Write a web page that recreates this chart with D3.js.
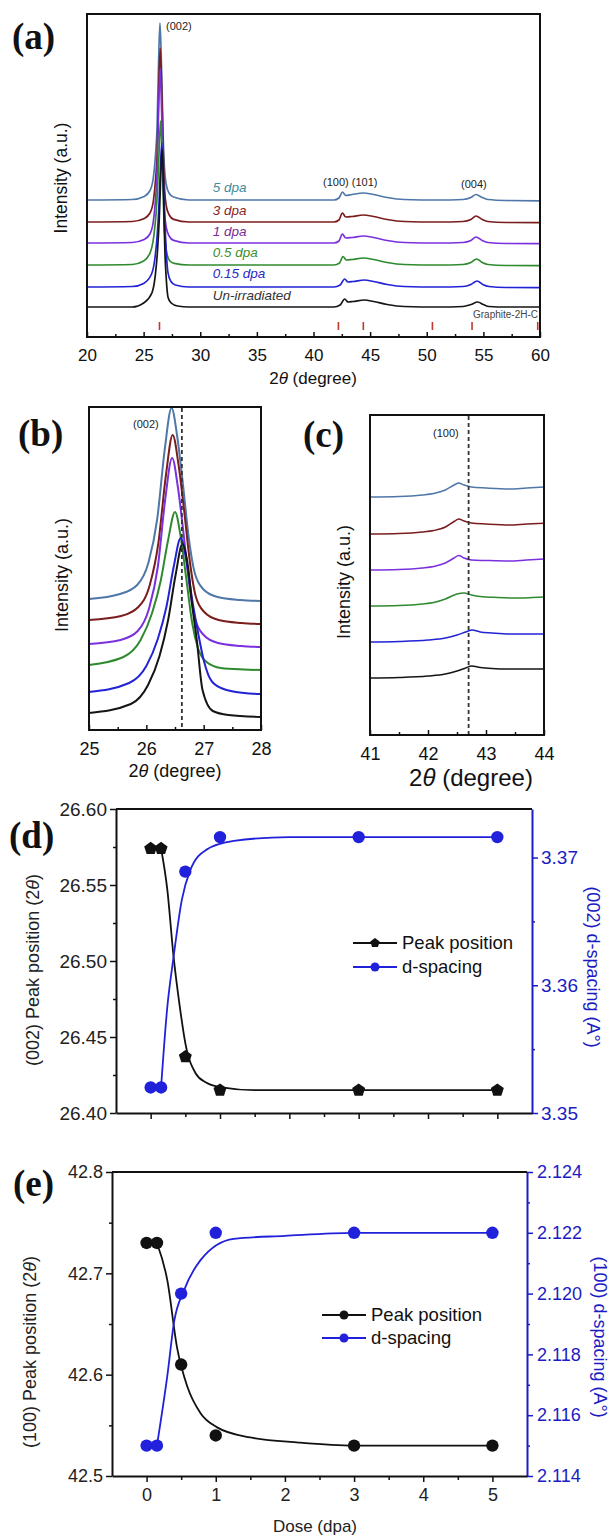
<!DOCTYPE html>
<meta charset="utf-8">
<style>
body { margin: 0; background: #fff; }
svg { display: block; font-family: "Liberation Sans", Arial, sans-serif; }
.frame { fill: none; stroke: #111; stroke-width: 2px; }
.scan { fill: none; stroke-width: 1.6px; stroke-linejoin: round; }
.fit { fill: none; stroke-width: 1.8px; }
.tick line { stroke: #111; stroke-width: 1.5px; }
.panel-label { font-family: "Liberation Serif", "Times New Roman", serif; font-weight: bold; font-size: 37px; fill: #111; }
</style>
<body>
<div id="chart"></div>
<script src="https://d3js.org/d3.v7.min.js"></script>
<script>
// ---------- data ----------
var doseLabels = ["Un-irradiated", "0.15 dpa", "0.5 dpa", "1 dpa", "3 dpa", "5 dpa"];
var lineColors = ["#151515", "#2323d6", "#2f8a2f", "#7b30dd", "#7a1d1d", "#4f77a8"];
var labelColors = ["#333333", "#2a2ac4", "#3c8f2c", "#7e2b97", "#8a2626", "#3f8c9b"];

// (a) full scans: [2theta, intensity (a.u., stacked)]
var scanA_un = [[20,30],[24,30],[25,34],[25.73,44],[26.03,61.6],[26.23,87],[26.38,118],[26.51,160],[26.63,188],[26.73,164],[26.8,120],[26.88,85],[26.98,61.6],[27.16,39.5],[27.43,34],[28,31],[29,30],[33,30],[38,30],[41.8,30],[42.35,32],[42.75,38],[43.05,35],[43.5,35.5],[44.5,37],[45.3,35.5],[46.5,32.5],[48,30.5],[51,30],[53.2,30.5],[53.9,32.5],[54.5,35],[55,32.5],[55.5,30.5],[57,30],[60,30]];
var scanA_015 = [[20,50],[24,50.5],[25,53.6],[25.7,63],[26,79],[26.2,102],[26.35,131],[26.48,168],[26.6,194],[26.7,172],[26.8,136],[26.9,108],[27,84.6],[27.15,64.4],[27.4,55.8],[27.8,52],[29,50],[33,50],[38,50],[41.8,50],[42.35,52],[42.75,58],[43.05,55],[43.5,55.5],[44.5,57],[45.3,55.5],[46.5,52.5],[48,50.5],[51,50],[53.2,50.5],[53.9,52.5],[54.45,56],[54.95,52.5],[55.5,50.5],[57,49.5],[60,49.3]];
var scanA_05 = [[20,72],[24,72.5],[25,76],[25.6,85],[25.9,101],[26.1,124],[26.25,153],[26.38,190],[26.5,216],[26.6,194],[26.7,156],[26.8,115],[26.9,96.5],[27.05,83.5],[27.3,76.3],[27.7,73.7],[29,72],[33,72],[38,72],[41.8,72],[42.3,74],[42.6,80.5],[42.9,77],[43.4,77.5],[44.4,79],[45.3,77.5],[46.5,74.5],[48,72.5],[51,72],[53.2,72.5],[53.9,74.5],[54.4,78],[54.9,74.5],[55.4,72.5],[57,71.5],[60,71.3]];
var scanA_1 = [[20,94],[24,94.5],[25.05,97.5],[25.55,103],[25.85,115],[26.05,137.5],[26.2,167],[26.33,230],[26.45,268],[26.55,242],[26.65,198],[26.75,151],[26.85,125],[27,109.5],[27.25,101],[27.65,96.6],[29,94],[33,94],[38,94],[41.8,94],[42.25,96],[42.55,103],[42.85,99],[43.4,99.5],[44.4,101],[45.3,99.5],[46.5,96.5],[48,94.5],[51,94],[53.2,94.5],[53.9,96.5],[54.35,100],[54.9,96.5],[55.4,94.5],[57,93.5],[60,93.3]];
var scanA_3 = [[20,115],[24,115.5],[25.06,118.5],[25.56,124],[25.86,136],[26.06,158.5],[26.21,188],[26.34,251],[26.46,289],[26.56,263],[26.66,219],[26.76,172],[26.86,146],[27.01,130.5],[27.26,122],[27.66,117.6],[29,115],[33,115],[38,115],[41.8,115],[42.25,117],[42.55,124],[42.85,120],[43.4,120.5],[44.4,122],[45.3,120.5],[46.5,117.5],[48,115.5],[51,115],[53.2,115.5],[53.9,117.5],[54.35,121],[54.9,117.5],[55.4,115.5],[57,114.5],[60,114.3]];
var scanA_5 = [[20,137],[24,137.5],[25.04,140.5],[25.54,146],[25.84,158],[26.04,181],[26.19,211],[26.32,275],[26.44,314],[26.54,287],[26.64,243],[26.74,195],[26.84,169],[26.99,153],[27.24,144],[27.64,140],[29,137],[33,137],[38,137],[41.8,137],[42.25,139],[42.55,145],[42.85,141.5],[43.4,142.5],[44.4,144],[45.3,142.5],[46.5,139.5],[48,137.5],[51,137],[53.2,137.5],[53.9,139.5],[54.35,142.5],[54.9,139.5],[55.4,137.5],[57,136.5],[60,136.2]];
var labelBaseA = [300, 278, 257, 236, 215, 192]; // label positions in (a), px
var graphite2H = [26.4, 42.2, 44.4, 50.5, 54.0, 59.8];

// (b) (002) zoom
var scanB_un = [[25,17],[25.73,26],[26.03,45],[26.23,74],[26.38,110],[26.51,155],[26.63,186],[26.73,162],[26.8,125],[26.88,90],[26.98,40],[27.16,19],[27.43,15],[28,13]];
var scanB_015 = [[25,38],[25.7,47],[26,64],[26.2,91],[26.35,123],[26.48,164],[26.6,192],[26.7,169],[26.8,130],[26.9,98],[27,70],[27.15,48],[27.4,40],[27.8,36.5],[28,36]];
var scanB_05 = [[25,65],[25.6,73],[25.9,90],[26.1,117],[26.25,149],[26.38,190],[26.5,218],[26.6,193],[26.7,150],[26.8,107],[26.9,82],[27.05,68],[27.3,62],[27.7,60.5],[28,60]];
var scanB_1 = [[25,86],[25.55,90],[25.85,99],[26.05,122],[26.2,163],[26.33,231],[26.45,272],[26.55,243],[26.65,196],[26.75,145],[26.85,111],[27,95],[27.25,87],[27.65,84],[28,83]];
var scanB_3 = [[25,110],[25.56,114],[25.86,123],[26.06,145],[26.21,187],[26.34,254],[26.46,295],[26.56,266],[26.66,219],[26.76,168],[26.86,134],[27.01,118],[27.26,110],[27.66,107],[28,106]];
var scanB_5 = [[25,131],[25.54,136],[25.84,145],[26.04,168],[26.19,211],[26.32,280],[26.44,322],[26.54,293],[26.64,245],[26.74,192],[26.84,158],[26.99,141],[27.24,133],[27.64,130],[28,129]];

// (c) (100) zoom
var scanC_un = [[41,57],[41.5,57.5],[42,59],[42.3,61],[42.5,64],[42.65,67],[42.75,69],[42.9,67.5],[43.1,66.5],[43.4,66],[43.7,66],[44,66]];
var scanC_015 = [[41,93],[41.5,93.5],[42,95],[42.3,97],[42.5,100],[42.65,103],[42.76,105],[42.9,103],[43.1,102],[43.4,101],[43.7,101],[44,101]];
var scanC_05 = [[41,129],[41.5,129.5],[41.9,131],[42.1,132.5],[42.3,136],[42.5,141],[42.62,142],[42.75,140],[42.9,138.5],[43.2,137.5],[43.5,137],[43.8,137.5],[44,138]];
var scanC_1 = [[41,165],[41.5,165.5],[41.9,167],[42.1,168.5],[42.3,172],[42.45,177],[42.53,179.5],[42.62,177],[42.75,175],[43,174.5],[43.4,174],[43.7,175],[44,176]];
var scanC_3 = [[41,201],[41.5,201.5],[41.9,203],[42.1,204.5],[42.3,208],[42.45,213.5],[42.53,216],[42.62,214],[42.75,212],[43,211],[43.4,210],[43.7,211],[44,211.7]];
var scanC_5 = [[41,238],[41.5,238.5],[41.9,240],[42.1,241.5],[42.3,245],[42.45,250],[42.53,252],[42.62,250],[42.75,248],[43,247],[43.4,246],[43.7,247],[44,248]];

// (d) and (e) peak position / d-spacing vs dose
var dose = [0, 0.15, 0.5, 1, 3, 5];
var peak002 = [26.574, 26.574, 26.437, 26.415, 26.415, 26.415];
var dsp002 = [3.352, 3.352, 3.3689, 3.3716, 3.3716, 3.3716];
var peak100 = [42.73, 42.73, 42.61, 42.54, 42.53, 42.53];
var dsp100 = [2.115, 2.115, 2.120, 2.122, 2.122, 2.122];
var fitPeak002 = [[0.15,26.574],[0.24,26.547],[0.33,26.503],[0.42,26.470],[0.5,26.446],[0.65,26.426],[0.8,26.420],[1.0,26.417],[1.5,26.415],[2,26.415],[3,26.415],[5,26.415]];
var fitDsp002 = [[0.15,3.352],[0.24,3.3583],[0.33,3.3622],[0.45,3.3667],[0.57,3.369],[0.8,3.3706],[1.2,3.3713],[2,3.3716],[3,3.3716],[5,3.3716]];
var fitPeak100 = [[0.15,42.73],[0.3,42.693],[0.44,42.627],[0.59,42.588],[0.78,42.562],[1.02,42.548],[1.5,42.538],[2.2,42.533],[3,42.53],[5,42.53]];
var fitDsp100 = [[0.15,2.115],[0.3,2.1173],[0.4,2.1191],[0.54,2.1201],[0.78,2.1211],[1.26,2.1218],[2,2.1219],[3,2.122],[5,2.122]];

var blue = "#2121db";
var axisBlue = "#1c1cc4";

var svg = d3.select("#chart").append("svg")
    .attr("width", 612)
    .attr("height", 1536);

// ---------- helpers ----------
function panelLabel(txt, x, y) {
  svg.append("text").attr("class", "panel-label").attr("x", x).attr("y", y).text(txt);
}

function twoTheta(sel, x, y, size) {
  var t = sel.append("text").attr("x", x).attr("y", y)
      .attr("text-anchor", "middle").style("font-size", size + "px").attr("fill", "#111");
  t.append("tspan").text("2");
  t.append("tspan").style("font-style", "italic").text("\u03b8");
  t.append("tspan").text(" (degree)");
}

function vTitle(x, y, size, parts, color, angle) {
  var t = svg.append("text")
      .attr("transform", "translate(" + x + "," + y + ") rotate(" + angle + ")")
      .attr("text-anchor", "middle").attr("dy", "0.35em")
      .style("font-size", size + "px").attr("fill", color);
  parts.forEach(function(p) {
    t.append("tspan").style("font-style", p[1] ? "italic" : "normal").text(p[0]);
  });
}

// one stacked XRD panel: frame, inward ticks, curves
function xrdPanel(box, xDomain, scans, major, minor, fontSize, lw) {
  var x = d3.scaleLinear().domain(xDomain).range([box.left, box.right]);
  var y = d3.scaleLinear().domain([0, box.bottom - box.top]).range([box.bottom, box.top]);
  var line = d3.line()
      .curve(d3.curveMonotoneX)
      .x(function(d) { return x(d[0]); })
      .y(function(d) { return y(d[1]); });

  for (var i = scans.length - 1; i >= 0; i--) {
    svg.append("path").attr("class", "scan")
        .attr("d", line(scans[i]))
        .attr("stroke", lineColors[i])
        .style("stroke-width", lw + "px");
  }

  var gx = svg.append("g").attr("transform", "translate(0," + box.bottom + ")")
      .call(d3.axisBottom(x).tickValues(major).tickSize(-5).tickSizeOuter(0)
        .tickPadding(12).tickFormat(d3.format("d")));
  gx.select(".domain").remove();
  gx.selectAll("text").style("font-size", fontSize + "px").attr("fill", "#111");
  var gm = svg.append("g").attr("transform", "translate(0," + box.bottom + ")")
      .call(d3.axisBottom(x).tickValues(minor).tickSize(-3).tickSizeOuter(0).tickFormat(""));
  gm.select(".domain").remove();

  svg.append("rect").attr("class", "frame")
      .attr("x", box.left).attr("y", box.top)
      .attr("width", box.right - box.left).attr("height", box.bottom - box.top);
  return {x: x, y: y};
}

function pentagonPath(r) {
  var pts = d3.range(5).map(function(i) {
    var a = -Math.PI / 2 + i * 2 * Math.PI / 5;
    return [r * Math.cos(a), r * Math.sin(a)];
  });
  return "M" + pts.join("L") + "Z";
}

function marker(sel, kind, cx, cy, r, color) {
  if (kind === "pentagon") {
    sel.append("path").attr("d", pentagonPath(r * 1.1))
        .attr("transform", "translate(" + cx + "," + cy + ")").attr("fill", color);
  } else {
    sel.append("circle").attr("cx", cx).attr("cy", cy).attr("r", r).attr("fill", color);
  }
}

// dose trend panel with two y axes
function trendPanel(o) {
  var b = o.box;
  var x = d3.scaleLinear().domain([-0.5, 5.5]).range([b.left, b.right]);
  var yL = d3.scaleLinear().domain(o.leftDomain).range([b.bottom, b.top]);
  var yR = d3.scaleLinear().domain(o.rightDomain).range([b.bottom, b.top]);

  // left axis
  var gl = svg.append("g").attr("transform", "translate(" + b.left + ",0)")
      .call(d3.axisLeft(yL).tickValues(o.leftTicks).tickSize(6).tickSizeOuter(0)
        .tickPadding(3).tickFormat(d3.format(o.leftFmt)));
  gl.select(".domain").attr("stroke", "#111").attr("stroke-width", 2);
  gl.selectAll("text").style("font-size", o.fontSize + "px").attr("fill", "#222");
  svg.append("g").attr("transform", "translate(" + b.left + ",0)")
      .call(d3.axisLeft(yL).tickValues(o.leftMinor).tickSize(3).tickFormat(""))
      .select(".domain").remove();

  // right axis (blue)
  var gr = svg.append("g").attr("transform", "translate(" + b.right + ",0)")
      .call(d3.axisRight(yR).tickValues(o.rightTicks).tickSize(6).tickSizeOuter(0)
        .tickPadding(o.rightPad).tickFormat(d3.format(o.rightFmt)));
  gr.select(".domain").attr("stroke", axisBlue).attr("stroke-width", 2);
  gr.selectAll(".tick line").style("stroke", axisBlue);
  gr.selectAll("text").style("font-size", o.fontSize + "px").attr("fill", axisBlue);
  var grm = svg.append("g").attr("transform", "translate(" + b.right + ",0)")
      .call(d3.axisRight(yR).tickValues(o.rightMinor).tickSize(3).tickFormat(""));
  grm.select(".domain").remove();
  grm.selectAll(".tick line").style("stroke", axisBlue);

  // bottom axis
  var gb = svg.append("g").attr("transform", "translate(0," + b.bottom + ")")
      .call(d3.axisBottom(x).tickValues([0, 1, 2, 3, 4, 5]).tickSize(6).tickSizeOuter(0)
        .tickPadding(6).tickFormat(o.xLabels ? d3.format("d") : ""));
  gb.select(".domain").attr("stroke", "#111").attr("stroke-width", 2);
  gb.selectAll("text").style("font-size", o.fontSize + "px").attr("fill", "#222");
  svg.append("g").attr("transform", "translate(0," + b.bottom + ")")
      .call(d3.axisBottom(x).tickValues([0.5, 1.5, 2.5, 3.5, 4.5]).tickSize(4).tickFormat(""))
      .select(".domain").remove();

  // top edge
  svg.append("line").attr("x1", b.left).attr("x2", b.right)
      .attr("y1", b.top).attr("y2", b.top)
      .attr("stroke", "#111").attr("stroke-width", 2);

  // fitted curves
  var lineL = d3.line().curve(d3.curveMonotoneX)
      .x(function(d) { return x(d[0]); }).y(function(d) { return yL(d[1]); });
  var lineR = d3.line().curve(d3.curveMonotoneX)
      .x(function(d) { return x(d[0]); }).y(function(d) { return yR(d[1]); });
  svg.append("path").attr("class", "fit").attr("d", lineL(o.peakFit)).attr("stroke", "#111");
  svg.append("path").attr("class", "fit").attr("d", lineR(o.dspFit)).attr("stroke", blue);

  // points
  var g = svg.append("g");
  o.dose.forEach(function(d, i) {
    marker(g, o.peakMarker, x(d), yL(o.peak[i]), 6.2, "#111");
    marker(g, "circle", x(d), yR(o.dsp[i]), 6.2, blue);
  });

  // legend
  var lg = svg.append("g");
  [["Peak position", "#111", o.peakMarker], ["d-spacing", blue, "circle"]].forEach(function(e, i) {
    var ly = o.legend.y + i * o.legend.dy;
    lg.append("line").attr("x1", o.legend.x).attr("x2", o.legend.x + 44)
        .attr("y1", ly).attr("y2", ly).attr("stroke", e[1]).attr("stroke-width", 1.8);
    marker(lg, e[2], o.legend.x + 22, ly, 4.5, e[1]);
    lg.append("text").attr("x", o.legend.x + 49).attr("y", ly).attr("dy", "0.35em")
        .style("font-size", o.legendSize + "px").attr("fill", "#111").text(e[0]);
  });
}

// ---------- (a) ----------
var a = xrdPanel({left: 87, right: 540, top: 14, bottom: 337}, [20, 60],
    [scanA_un, scanA_015, scanA_05, scanA_1, scanA_3, scanA_5],
    d3.range(20, 60.01, 5), d3.range(22.5, 60, 5), 17, 1.7);

svg.append("g").selectAll("line")
    .data(graphite2H)
  .enter().append("line")
    .attr("x1", function(d) { return a.x(d); }).attr("x2", function(d) { return a.x(d); })
    .attr("y1", a.y(7)).attr("y2", a.y(15))
    .attr("stroke", "#c0392b").attr("stroke-width", 1.6);

svg.append("text").attr("x", 538).attr("y", 318).attr("text-anchor", "end")
    .style("font-size", "10px").attr("fill", "#444").text("Graphite-2H-C");

doseLabels.forEach(function(lbl, i) {
  svg.append("text").attr("x", a.x(31.1)).attr("y", labelBaseA[i])
      .style("font-size", "13.5px").style("font-style", "italic")
      .attr("fill", labelColors[i]).text(lbl);
});

svg.append("text").attr("x", 166).attr("y", 30).style("font-size", "11px").attr("fill", "#222").text("(002)");
svg.append("text").attr("x", 323).attr("y", 186).style("font-size", "11px").attr("fill", "#222").text("(100) (101)");
svg.append("text").attr("x", 461).attr("y", 188).style("font-size", "11px").attr("fill", "#222").text("(004)");

twoTheta(svg, 313, 384, 17);
vTitle(61, 178, 17.5, [["Intensity (a.u.)", false]], "#111", -90);
panelLabel("(a)", 12, 49);

// ---------- (b) ----------
var bP = xrdPanel({left: 89, right: 261, top: 407, bottom: 730}, [25, 28],
    [scanB_un, scanB_015, scanB_05, scanB_1, scanB_3, scanB_5],
    [25, 26, 27, 28], [25.5, 26.5, 27.5], 18, 2);
svg.append("line").attr("x1", bP.x(26.62)).attr("x2", bP.x(26.62))
    .attr("y1", 408).attr("y2", 729)
    .attr("stroke", "#333").attr("stroke-width", 1.8).attr("stroke-dasharray", "4,3");
svg.append("text").attr("x", 133).attr("y", 428).style("font-size", "11px").attr("fill", "#222").text("(002)");
twoTheta(svg, 175, 777, 18);
vTitle(62, 575, 18, [["Intensity (a.u.)", false]], "#111", -90);
panelLabel("(b)", 18, 446);

// ---------- (c) ----------
var cP = xrdPanel({left: 370, right: 544, top: 415, bottom: 735}, [41, 44],
    [scanC_un, scanC_015, scanC_05, scanC_1, scanC_3, scanC_5],
    [41, 42, 43, 44], [41.5, 42.5, 43.5], 18, 1.5);
svg.append("line").attr("x1", cP.x(42.7)).attr("x2", cP.x(42.7))
    .attr("y1", 416).attr("y2", 734)
    .attr("stroke", "#333").attr("stroke-width", 1.8).attr("stroke-dasharray", "4,3");
svg.append("text").attr("x", 433).attr("y", 437).style("font-size", "11px").attr("fill", "#222").text("(100)");
twoTheta(svg, 471, 786, 24);
vTitle(344, 582, 18, [["Intensity (a.u.)", false]], "#111", -90);
panelLabel("(c)", 303, 447);

// ---------- (d) ----------
trendPanel({
  box: {left: 116, right: 532, top: 809, bottom: 1113},
  leftDomain: [26.40, 26.60], rightDomain: [3.35, 3.3738],
  leftTicks: [26.40, 26.45, 26.50, 26.55, 26.60], leftMinor: [26.425, 26.475, 26.525, 26.575], leftFmt: ".2f",
  rightTicks: [3.35, 3.36, 3.37], rightMinor: [3.355, 3.365], rightFmt: ".2f", rightPad: 3,
  xLabels: false, fontSize: 19,
  dose: dose, peak: peak002, dsp: dsp002, peakFit: fitPeak002, dspFit: fitDsp002,
  peakMarker: "pentagon",
  legend: {x: 353, y: 943, dy: 24}, legendSize: 18.5
});
vTitle(33, 970, 18, [["(002) Peak position (2", false], ["\u03b8", true], [")", false]], "#222", -90);
vTitle(593, 967, 18, [["(002) d-spacing  (A\u00b0)", false]], axisBlue, 90);
panelLabel("(d)", 9, 848);

// ---------- (e) ----------
trendPanel({
  box: {left: 112, right: 527, top: 1172, bottom: 1476},
  leftDomain: [42.5, 42.8], rightDomain: [2.114, 2.124],
  leftTicks: [42.5, 42.6, 42.7, 42.8], leftMinor: [42.55, 42.65, 42.75], leftFmt: ".1f",
  rightTicks: [2.114, 2.116, 2.118, 2.120, 2.122, 2.124],
  rightMinor: [2.115, 2.117, 2.119, 2.121, 2.123], rightFmt: ".3f", rightPad: 4,
  xLabels: true, fontSize: 18,
  dose: dose, peak: peak100, dsp: dsp100, peakFit: fitPeak100, dspFit: fitDsp100,
  peakMarker: "circle",
  legend: {x: 322, y: 1315, dy: 23}, legendSize: 18.5
});
svg.append("text").attr("x", 315).attr("y", 1532).attr("text-anchor", "middle")
    .style("font-size", "17px").attr("fill", "#222").text("Dose (dpa)");
vTitle(30, 1352, 18, [["(100) Peak position (2", false], ["\u03b8", true], [")", false]], "#222", -90);
vTitle(600, 1337, 18, [["(100) d-spacing (A\u00b0)", false]], axisBlue, 90);
panelLabel("(e)", 13, 1196);
</script>
</body>
